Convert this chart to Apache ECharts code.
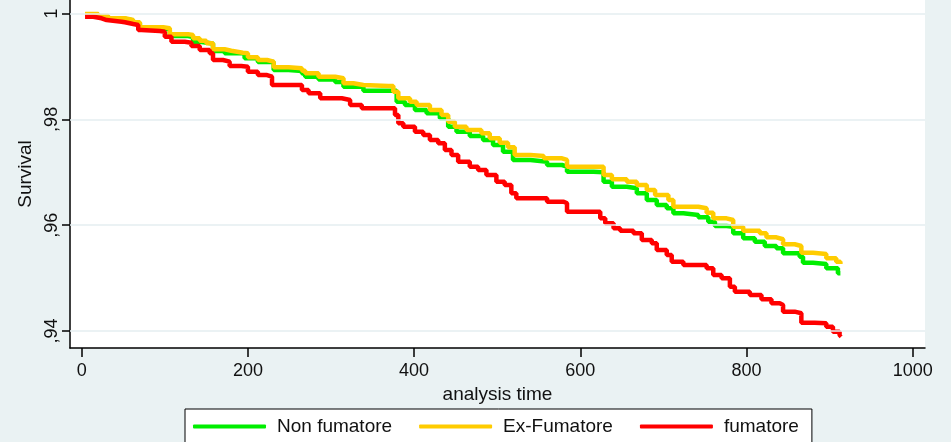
<!DOCTYPE html>
<html>
<head>
	<meta charset="UTF-8">
	<title>Survival</title>
	<script src="https://cdn.jsdelivr.net/npm/echarts@6/dist/echarts.min.js"></script>
	<style>
		html, body { margin: 0; padding: 0; background: #eaf2f3; }
		#chart { width: 951px; height: 442px; }
	</style>
</head>
<body>
	<div id="chart"></div>
	<script>
		// tick labels
		var xTicks = [0, 200, 400, 600, 800, 1000];
		var yTicks = [0.94, 0.96, 0.98, 1];
		var yTickLabels = [',94', ',96', ',98', '1'];

		var seriesNames = ['Non fumatore', 'Ex-Fumatore', 'fumatore'];

		// [analysis time, survival]
		var nonFumatore = [
			[4, 0.99981], [20, 0.99943], [32, 0.99900], [52, 0.99868], [62, 0.99821], [70, 0.99726],
			[98, 0.99698], [106, 0.99575], [128, 0.99556], [134, 0.99467], [142, 0.99433], [158, 0.99292],
			[172, 0.99248], [196, 0.99154], [212, 0.99084], [231, 0.98933], [249, 0.98914], [265, 0.98867],
			[269, 0.98806], [285, 0.98753], [305, 0.98706], [315, 0.98617], [339, 0.98542], [369, 0.98542],
			[379, 0.98334], [389, 0.98272], [401, 0.98177], [415, 0.98115], [431, 0.98020], [441, 0.97862],
			[451, 0.97767], [467, 0.97686], [483, 0.97610], [495, 0.97516], [507, 0.97389], [519, 0.97233],
			[540, 0.97201], [560, 0.97138], [578, 0.97106], [584, 0.97012], [616, 0.97000], [628, 0.96823],
			[638, 0.96728], [656, 0.96698], [668, 0.96604], [680, 0.96477], [692, 0.96383], [704, 0.96320],
			[712, 0.96226], [724, 0.96194], [742, 0.96150], [754, 0.96067], [762, 0.95986], [776, 0.95973],
			[784, 0.95848], [796, 0.95753], [810, 0.95689], [822, 0.95608], [836, 0.95565], [844, 0.95470],
			[864, 0.95406], [868, 0.95293], [880, 0.95268], [896, 0.95187], [910, 0.95093], [913, 0.95080]
		];
		var exFumatore = [
			[4, 0.99991], [20, 0.99953], [32, 0.99909], [52, 0.99877], [62, 0.99834], [70, 0.99739],
			[98, 0.99720], [106, 0.99607], [128, 0.99594], [134, 0.99532], [142, 0.99486], [150, 0.99437],
			[158, 0.99324], [172, 0.99297], [180, 0.99260], [194, 0.99248], [200, 0.99173], [212, 0.99122],
			[223, 0.99090], [231, 0.98984], [249, 0.98965], [265, 0.98920], [269, 0.98870], [285, 0.98806],
			[305, 0.98776], [315, 0.98681], [327, 0.98649], [339, 0.98630], [369, 0.98630], [375, 0.98523],
			[381, 0.98398], [395, 0.98334], [403, 0.98272], [419, 0.98177], [433, 0.98083], [441, 0.97956],
			[449, 0.97862], [463, 0.97799], [481, 0.97737], [491, 0.97643], [503, 0.97559], [513, 0.97473],
			[521, 0.97327], [540, 0.97308], [556, 0.97265], [578, 0.97233], [584, 0.97106], [616, 0.97106],
			[628, 0.96949], [638, 0.96868], [656, 0.96823], [668, 0.96760], [680, 0.96666], [690, 0.96571],
			[706, 0.96477], [712, 0.96350], [742, 0.96320], [752, 0.96237], [760, 0.96131], [776, 0.96099],
			[784, 0.95973], [796, 0.95897], [816, 0.95848], [824, 0.95772], [836, 0.95735], [844, 0.95640],
			[858, 0.95608], [866, 0.95481], [880, 0.95457], [896, 0.95375], [908, 0.95311], [913, 0.95268]
		];
		var fumatore = [
			[4, 0.99940], [14, 0.99909], [24, 0.99877], [30, 0.99845], [48, 0.99834], [52, 0.99802],
			[62, 0.99783], [68, 0.99688], [72, 0.99669], [94, 0.99656], [100, 0.99562], [108, 0.99467],
			[124, 0.99448], [132, 0.99386], [142, 0.99311], [154, 0.99248], [158, 0.99122], [170, 0.99090],
			[178, 0.99008], [192, 0.98995], [200, 0.98901], [212, 0.98838], [223, 0.98806], [229, 0.98649],
			[247, 0.98649], [265, 0.98555], [273, 0.98493], [287, 0.98398], [313, 0.98366], [323, 0.98272],
			[337, 0.98209], [371, 0.98209], [377, 0.98083], [381, 0.97926], [387, 0.97862], [397, 0.97862],
			[401, 0.97767], [411, 0.97705], [419, 0.97610], [429, 0.97548], [437, 0.97421], [445, 0.97327],
			[453, 0.97201], [467, 0.97106], [477, 0.97044], [487, 0.96949], [499, 0.96823], [509, 0.96760],
			[517, 0.96604], [523, 0.96509], [547, 0.96509], [560, 0.96445], [580, 0.96415], [584, 0.96256],
			[616, 0.96256], [624, 0.96131], [630, 0.96037], [640, 0.95942], [648, 0.95897], [664, 0.95848],
			[674, 0.95721], [686, 0.95659], [692, 0.95533], [704, 0.95438], [710, 0.95311], [724, 0.95249],
			[742, 0.95249], [752, 0.95187], [760, 0.95060], [770, 0.94998], [780, 0.94839], [786, 0.94745],
			[804, 0.94683], [818, 0.94601], [830, 0.94526], [840, 0.94494], [844, 0.94367], [858, 0.94337],
			[866, 0.94159], [882, 0.94148], [896, 0.94084], [904, 0.93989], [912, 0.93927], [914, 0.93895]
		];

		var colors = ['#00ee00', '#ffcc00', '#ff0000'];
		var font = 'Liberation Sans, Arial, sans-serif';

		var myChart = echarts.init(document.getElementById('chart'));

		function curve(name, data, color) {
			return {
				name: name,
				type: 'line',
				step: 'end',
				data: data,
				showSymbol: false,
				symbol: 'none',
				color: color,
				lineStyle: { color: color, width: 4.5 },
				z: 3,
				silent: true
			};
		}

		var option = {
			backgroundColor: '#eaf2f3',
			animation: false,
			grid: {
				left: 70,
				right: 26,
				top: 0,
				bottom: 94,
				show: true,
				backgroundColor: '#ffffff',
				borderWidth: 0
			},
			legend: {
				data: seriesNames,
				left: 185,
				top: 409,
				padding: [8, 13, 8, 8],
				itemWidth: 73,
				itemHeight: 4,
				itemGap: 27,
				icon: 'roundRect',
				backgroundColor: '#ffffff',
				borderColor: '#000000',
				borderWidth: 1,
				borderRadius: 0,
				textStyle: {
					fontFamily: font,
					fontSize: 19,
					color: '#111',
					padding: [0, 0, 0, 6]
				}
			},
			xAxis: {
				type: 'value',
				min: -14.1,
				max: 1014.8,
				name: 'analysis time',
				nameLocation: 'middle',
				nameGap: 32,
				nameTextStyle: { fontFamily: font, fontSize: 19, color: '#111' },
				axisLine: { show: true, onZero: false, lineStyle: { color: '#000', width: 1.5 } },
				axisTick: { show: true, length: 9, customValues: xTicks, lineStyle: { color: '#000', width: 1.5 } },
				axisLabel: {
					customValues: xTicks,
					margin: 14,
					fontFamily: font,
					fontSize: 18,
					color: '#111',
					formatter: function(v) { return String(v); }
				},
				splitLine: { show: false }
			},
			yAxis: {
				type: 'value',
				min: 0.93681,
				max: 1.00255,
				name: 'Survival',
				nameLocation: 'middle',
				nameGap: 30,
				nameRotate: 90,
				nameTextStyle: { fontFamily: font, fontSize: 19, color: '#111' },
				axisLine: { show: true, onZero: false, lineStyle: { color: '#000', width: 1.5 } },
				axisTick: { show: true, length: 8, customValues: yTicks, lineStyle: { color: '#000', width: 1.5 } },
				axisLabel: {
					customValues: yTicks,
					rotate: 90,
					margin: 9,
					fontFamily: font,
					fontSize: 18,
					color: '#111',
					formatter: function(v) {
						var i = yTicks.indexOf(v);
						return i >= 0 ? yTickLabels[i] : '';
					}
				},
				splitLine: { show: false }
			},
			series: [
				{
					name: 'grid',
					type: 'line',
					data: [],
					z: 1,
					silent: true,
					markLine: {
						silent: true,
						symbol: 'none',
						label: { show: false },
						lineStyle: { color: '#e4eef0', width: 1.5, type: 'solid' },
						data: yTicks.map(function(v) { return { yAxis: v }; })
					}
				},
				curve(seriesNames[0], nonFumatore, colors[0]),
				curve(seriesNames[1], exFumatore, colors[1]),
				curve(seriesNames[2], fumatore, colors[2])
			]
		};
		myChart.setOption(option);
	</script>
</body>
</html>
